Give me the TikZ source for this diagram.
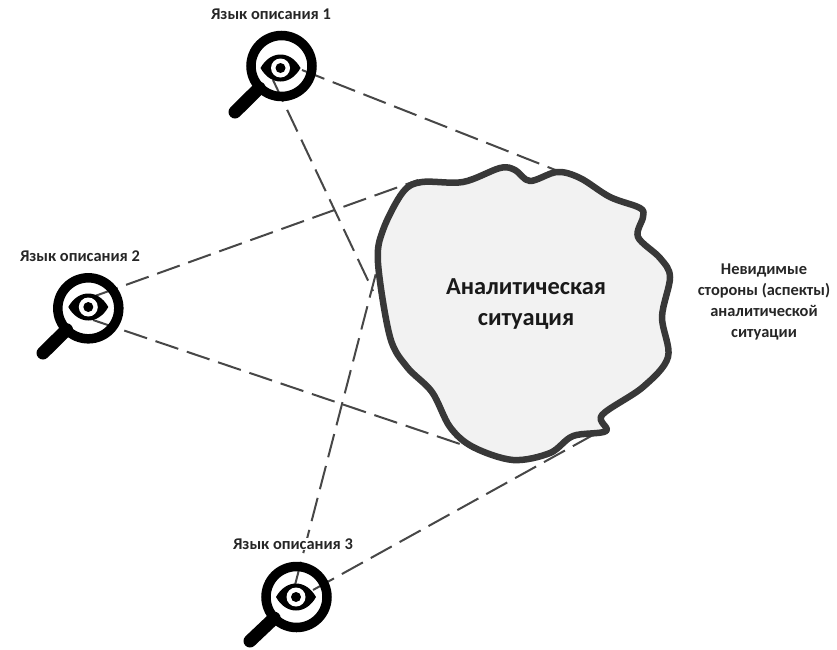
\documentclass[tikz,border=0pt]{standalone}
\usepackage{fontspec}
\setmainfont{Carlito}
\usetikzlibrary{calc}
\tikzset{
 x=1pt,y=-1pt,
 conn/.style={draw=black!72,line width=2pt,dash pattern=on 24pt off 9pt},
 ringl/.style={circle,draw=black,line width=9.5pt,minimum size=61pt,inner sep=0pt},
 handle/.style={draw=black,line width=13pt,line cap=round},
 lab/.style={font=\bfseries\fontsize{16.4}{21}\selectfont,text=black!85,align=center},
 blob/.style={draw=black!78,fill=black!5,line width=6.5pt,line join=round},
}
\newcommand{\eyeicon}[1]{%
 \fill[black] ($(#1)+(-20,0)$) .. controls ($(#1)+(-10,-18)$) and ($(#1)+(10,-18)$) .. ($(#1)+(20,0)$) .. controls ($(#1)+(10,18)$) and ($(#1)+(-10,18)$) .. cycle;
 \fill[white] (#1) circle (9.5);
 \fill[black] (#1) circle (5);
}
\begin{document}
\begin{tikzpicture}
\useasboundingbox (0,0) rectangle (837,649);
\coordinate (l1) at (281.5,66);
\coordinate (l2) at (88.3,308.3);
\coordinate (l3) at (296.5,597);
\coordinate (e1) at (280.5,68);
\coordinate (e2) at (88.3,307);
\coordinate (e3) at (296,597);
\coordinate (h1) at (235,112);
\coordinate (h2) at (43,353);
\coordinate (h3) at (250,641);
\coordinate (s1a) at (302,70);
\coordinate (s1b) at (273,80);
\coordinate (s2a) at (95,296);
\coordinate (s2b) at (93,320);
\coordinate (s3a) at (295,585);
\coordinate (s3b) at (313,590);
\coordinate (a1) at (558,171);
\coordinate (a2) at (373,291);
\coordinate (b1) at (418,180);
\coordinate (b2) at (460,444);
\coordinate (c1) at (382,250);
\coordinate (c2) at (602,430);
% connectors
\draw[conn] (s1a) -- (a1);
\draw[conn] (s1b) -- (a2);
\draw[conn] (s2a) -- (b1);
\draw[conn] (s2b) -- (b2);
\draw[conn] (s3a) -- (c1);
\draw[conn] (s3b) -- (c2);
% blob
\draw[blob] plot[smooth cycle,tension=0.55] coordinates {
 (403,192) (422,182) (463,182) (500,168) (515,170) (530,181) (557,172) (580,178) (610,197) (640,208) (643,217) (638,237) (660,258) (670,277) (662,317) (668,357) (643,387) (602,415) (606,431) (573,436) (550,453) (513,460) (473,447) (450,427) (432,392) (407,367) (390,337) (378,263) (383,230)};
\node[font=\bfseries\fontsize{24.4}{31}\selectfont,align=center,text=black!90] (sit) at (526,304) {Аналитическая\\ситуация};
\node[lab] (inv) at (764,302) {Невидимые\\стороны (аспекты)\\аналитической\\ситуации};
% magnifiers
\foreach \i in {1,2,3}{
 \draw[handle] (h\i) -- ($(h\i)!0.52!(l\i)$);
 \node[ringl] (m\i) at (l\i) {};
 \eyeicon{e\i}
}
\node[lab,fill=white,inner sep=1pt] (t1) at (271,14) {Язык описания 1};
\node[lab,fill=white,inner sep=1pt] (t2) at (80,256) {Язык описания 2};
\node[lab,fill=white,inner sep=1pt] (t3) at (293,544) {Язык описания 3};
\end{tikzpicture}
\end{document}
